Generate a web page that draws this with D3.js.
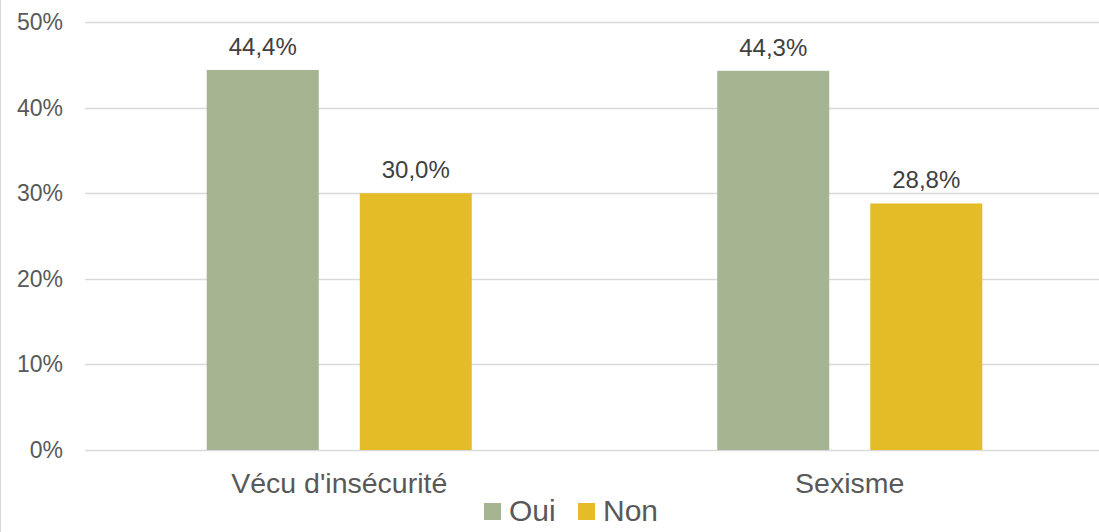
<!DOCTYPE html>
<html>
<head>
<meta charset="utf-8">
<script src="https://cdn.jsdelivr.net/npm/d3@7"></script>
<style>
  body { margin: 0; background: #fff; }
  text { font-family: 'Liberation Sans', Arial, sans-serif; }
</style>
</head>
<body>
<div id="chart"></div>
<script>
const categories = ["Vécu d'insécurité", 'Sexisme']
const seriesNames = ['Oui', 'Non']
const oui = [44.4, 44.3]
const non = [30.0, 28.8]
const yTicks = [0, 10, 20, 30, 40, 50]
const colors = ['#a5b592', '#e3bc28']

const width = 1099
const height = 532

const svg = d3
  .select('#chart')
  .append('svg')
  .attr('width', width)
  .attr('height', height)

// thin frame line on the left edge
svg
  .append('line')
  .attr('x1', 0.5)
  .attr('x2', 0.5)
  .attr('y1', 0)
  .attr('y2', height)
  .attr('stroke', '#d9d9d9')

const yScale = d3.scaleLinear().domain([0, 50]).range([450, 22])
const xScale = d3
  .scaleBand()
  .domain(categories)
  .range([84, 1105])
const inner = d3
  .scaleBand()
  .domain(seriesNames)
  .range([0, xScale.bandwidth()])
  .paddingInner(0.268)
  .paddingOuter(0.802)

// grid
svg
  .selectAll('.grid')
  .data(yTicks)
  .enter()
  .append('line')
  .attr('x1', 85)
  .attr('x2', width)
  .attr('y1', d => Math.round(yScale(d)) + 0.5)
  .attr('y2', d => Math.round(yScale(d)) + 0.5)
  .attr('stroke', '#d9d9d9')
  .attr('stroke-width', 1.3)

svg
  .selectAll('.tick-label')
  .data(yTicks)
  .enter()
  .append('text')
  .text(d => d + '%')
  .attr('x', 63)
  .attr('y', d => yScale(d) + 8)
  .attr('text-anchor', 'end')
  .attr('font-size', 23)
  .attr('fill', '#595959')

const rows = categories.map((c, i) => ({ cat: c, values: [oui[i], non[i]] }))

rows.forEach(row => {
  const g = svg.append('g').attr('transform', `translate(${xScale(row.cat)},0)`)
  const pts = seriesNames.map((s, j) => ({ s, v: row.values[j], j }))
  g.selectAll('rect')
    .data(pts)
    .enter()
    .append('rect')
    .attr('x', d => inner(d.s))
    .attr('width', inner.bandwidth())
    .attr('y', d => yScale(d.v))
    .attr('height', d => yScale(0) - yScale(d.v))
    .attr('fill', d => colors[d.j])
  g.selectAll('.val')
    .data(pts)
    .enter()
    .append('text')
    .text(d => d.v.toFixed(1).replace('.', ',') + '%')
    .attr('x', d => inner(d.s) + inner.bandwidth() / 2)
    .attr('y', d => yScale(d.v) - 15)
    .attr('text-anchor', 'middle')
    .attr('font-size', 24)
    .attr('fill', '#404040')
})

svg
  .selectAll('.cat-label')
  .data(categories)
  .enter()
  .append('text')
  .text(d => d)
  .attr('x', d => xScale(d) + xScale.bandwidth() / 2)
  .attr('y', 493)
  .attr('text-anchor', 'middle')
  .attr('font-size', 28.5)
  .attr('fill', '#595959')

// legend
const legendX = [484, 578]
seriesNames.forEach((s, i) => {
  svg
    .append('rect')
    .attr('x', legendX[i])
    .attr('y', 503)
    .attr('width', 17)
    .attr('height', 17)
    .attr('fill', colors[i])
  svg
    .append('text')
    .text(s)
    .attr('x', legendX[i] + 25)
    .attr('y', 521)
    .attr('font-size', 30)
    .attr('fill', '#595959')
})
</script>
</body>
</html>
